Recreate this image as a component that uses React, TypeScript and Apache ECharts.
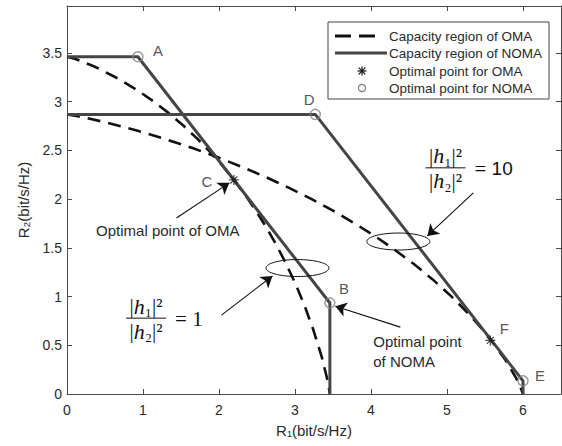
import React, { useEffect, useRef } from 'react';
import * as echarts from 'echarts';

// OMA capacity region boundary, |h1|^2/|h2|^2 = 1  [R1, R2]
const omaRegionRatio1 = [
  [0, 3.459], [0.1, 3.438], [0.179, 3.416], [0.383, 3.351], [0.666, 3.238], [0.912, 3.123],
  [1.134, 3.004], [1.339, 2.881], [1.53, 2.754], [1.71, 2.622], [1.88, 2.486], [2.042, 2.344],
  [2.196, 2.196], [2.344, 2.042], [2.486, 1.88], [2.622, 1.71], [2.754, 1.53], [2.881, 1.339],
  [3.004, 1.134], [3.123, 0.912], [3.238, 0.666], [3.351, 0.383], [3.416, 0.179], [3.438, 0.1],
  [3.459, 0],
];
// OMA capacity region boundary, |h1|^2/|h2|^2 = 10
const omaRegionRatio10 = [
  [0, 2.868], [0.126, 2.851], [0.232, 2.835], [0.515, 2.786], [0.93, 2.7], [1.308, 2.611],
  [1.661, 2.52], [1.996, 2.425], [2.316, 2.325], [2.625, 2.222], [2.923, 2.114], [3.213, 2.002],
  [3.494, 1.883], [3.768, 1.758], [4.037, 1.627], [4.299, 1.487], [4.556, 1.338], [4.807, 1.178],
  [5.054, 1.004], [5.296, 0.814], [5.535, 0.6], [5.769, 0.349], [5.908, 0.166], [5.954, 0.093],
  [6.0, 0],
];
// NOMA capacity region boundaries
const nomaRegionRatio1 = [[0, 3.459], [0.933, 3.459], [3.459, 0.933], [3.459, 0]];
const nomaRegionRatio10 = [[0, 2.868], [3.267, 2.868], [6.0, 0.135], [6.0, 0]];

// Optimal points
const nomaPointNames = ['A', 'B', 'D', 'E'];
const nomaOptimalPoints = [[0.933, 3.459], [3.459, 0.933], [3.267, 2.868], [6.0, 0.135]];
const omaPointNames = ['C', 'F'];
const omaOptimalPoints = [[2.196, 2.196], [5.57, 0.55]];

// Axis ranges / ticks
const xRange = [0, 6.5];
const yRange = [0, 3.98];
const xInterval = 1;
const yInterval = 0.5;

// Legend entries
const legendLabels = [
  'Capacity region of OMA',
  'Capacity region of NOMA',
  'Optimal point for OMA',
  'Optimal point for NOMA',
];

// Annotations (data coordinates)
const arrowLines = [
  [[1.44, 1.806], [2.137, 2.166]],
  [[2.032, 0.809], [2.703, 1.21]],
  [[5.346, 2.063], [4.741, 1.621]],
  [[4.386, 0.686], [3.531, 0.901]],
];
const ellipseCenters = [[3.032, 1.292], [4.36, 1.564]];
const fractionAnchors = [[1.04, 0.778], [4.98, 2.32]];
const fractionRhs = ['1', '10'];
const omaNoteText = 'Optimal point of OMA';
const omaNoteAnchor = [1.326, 1.673];
const nomaNoteText = 'Optimal point\nof NOMA';
const nomaNoteAnchor = [4.03, 0.437];

// label offsets (px) for point letters
const labelOffsets: Record<string, number[]> = {
  A: [20, -6], B: [14, -15], C: [-27, 2], D: [-6, -15], E: [17, -5], F: [14, -12],
};

const SANS = '"Liberation Sans", Arial, Helvetica, sans-serif';
const SERIF = '"Liberation Serif", "DejaVu Serif", serif';
const AXIS_COLOR = '#4a4a4a';
const TEXT_COLOR = '#2a2a2a';
const NOMA_COLOR = '#454545';
const OMA_COLOR = '#111111';
const CIRCLE_COLOR = '#858585';

const STAR_PATH =
  'path://M-0.6,-5L0.6,-5L0.6,5L-0.6,5Z M-5,-0.6L5,-0.6L5,0.6L-5,0.6Z ' +
  'M-3.96,-3.11L3.11,3.96L3.96,3.11L-3.11,-3.96Z M3.11,-3.96L3.96,-3.11L-3.11,3.96L-3.96,3.11Z';

export default function App() {
  const ref = useRef<HTMLDivElement>(null);

  useEffect(() => {
    const chart = echarts.init(ref.current!, null, { renderer: 'svg' });

    const axisCommon = {
      type: 'value' as const,
      axisLine: { show: true, onZero: false, lineStyle: { color: AXIS_COLOR, width: 1 } },
      axisTick: { show: true, inside: true, length: 5, lineStyle: { color: AXIS_COLOR } },
      splitLine: { show: false },
    };

    const letterLabel = (name: string) => ({
      show: true,
      position: 'inside',
      formatter: name,
      offset: labelOffsets[name],
      color: TEXT_COLOR,
      fontFamily: SANS,
      fontSize: 15,
    });

    chart.setOption({
      animation: false,
      backgroundColor: '#ffffff',
      grid: { left: 67, top: 6, width: 494, bottom: 52, containLabel: false },
      xAxis: [
        {
          ...axisCommon,
          min: xRange[0], max: xRange[1], interval: xInterval, position: 'bottom',
          axisLabel: { color: TEXT_COLOR, fontFamily: SANS, fontSize: 14, margin: 9, showMaxLabel: false },
          name: 'R₁(bit/s/Hz)',
          nameLocation: 'middle',
          nameGap: 29,
          nameTextStyle: { color: TEXT_COLOR, fontFamily: SANS, fontSize: 15 },
        },
        {
          ...axisCommon,
          min: xRange[0], max: xRange[1], interval: xInterval, position: 'top',
          axisLabel: { show: false },
        },
      ],
      yAxis: [
        {
          ...axisCommon,
          min: yRange[0], max: yRange[1], interval: yInterval, position: 'left',
          axisLabel: { color: TEXT_COLOR, fontFamily: SANS, fontSize: 14, margin: 5, showMaxLabel: false },
          name: 'R₂(bit/s/Hz)',
          nameLocation: 'middle',
          nameGap: 36,
          nameRotate: 90,
          nameTextStyle: { color: TEXT_COLOR, fontFamily: SANS, fontSize: 15 },
        },
        {
          ...axisCommon,
          min: yRange[0], max: yRange[1], interval: yInterval, position: 'right',
          axisLabel: { show: false },
        },
      ],
      series: [
        {
          name: 'OMA ratio 1', type: 'line', data: omaRegionRatio1, showSymbol: false, silent: true,
          lineStyle: { color: OMA_COLOR, width: 2.6, type: [13, 8] }, z: 2,
        },
        {
          name: 'OMA ratio 10', type: 'line', data: omaRegionRatio10, showSymbol: false, silent: true,
          lineStyle: { color: OMA_COLOR, width: 2.6, type: [13, 8] }, z: 2,
        },
        {
          name: 'NOMA ratio 1', type: 'line', data: nomaRegionRatio1, showSymbol: false, silent: true,
          lineStyle: { color: NOMA_COLOR, width: 3 }, z: 3,
        },
        {
          name: 'NOMA ratio 10', type: 'line', data: nomaRegionRatio10, showSymbol: false, silent: true,
          lineStyle: { color: NOMA_COLOR, width: 3 }, z: 3,
        },
        {
          name: 'NOMA optimal', type: 'scatter', symbol: 'circle', symbolSize: 10, silent: true,
          itemStyle: { color: 'rgba(255,255,255,0)', borderColor: CIRCLE_COLOR, borderWidth: 1.5 },
          data: nomaOptimalPoints.map((p, i) => ({ value: p, name: nomaPointNames[i], label: letterLabel(nomaPointNames[i]) })),
          z: 5,
        },
        {
          name: 'OMA optimal', type: 'scatter', symbol: STAR_PATH, symbolSize: 10, silent: true,
          itemStyle: { color: '#111' },
          data: omaOptimalPoints.map((p, i) => ({ value: p, name: omaPointNames[i], label: letterLabel(omaPointNames[i]) })),
          z: 5,
        },
        {
          name: 'arrows', type: 'line', data: [], silent: true,
          markLine: {
            silent: true,
            symbol: ['none', 'arrow'],
            symbolSize: 11,
            label: { show: false },
            lineStyle: { color: '#111', width: 1.1, type: 'solid' },
            itemStyle: { color: '#111' },
            data: arrowLines.map(([a, b]) => [{ coord: a }, { coord: b }]),
          },
        },
      ],
    });

    const px = (p: number[]) => chart.convertToPixel({ xAxisIndex: 0, yAxisIndex: 0 }, p) as number[];

    const graphics: any[] = [];

    ellipseCenters.forEach((c) => {
      const [cx, cy] = px(c);
      graphics.push({
        type: 'ellipse', silent: true, z: 10,
        shape: { cx, cy, rx: 31.5, ry: 8.5 },
        style: { fill: 'none', stroke: '#111', lineWidth: 1 },
      });
    });

    const fracRich = {
      u: { font: `21px ${SERIF}`, fill: '#111' },
      i: { font: `italic 22px ${SERIF}`, fill: '#111' },
      s: { font: `19px ${SANS}`, fill: '#111' },
    };
    fractionAnchors.forEach((a, k) => {
      const [x, y] = px(a);
      graphics.push({
        type: 'text', silent: true, z: 10, x, y: y - 1,
        style: { text: '{u||}{i|h}{u|₁|²}', rich: fracRich, align: 'center', verticalAlign: 'bottom' },
      });
      graphics.push({
        type: 'line', silent: true, z: 10,
        shape: { x1: x - 20, y1: y, x2: x + 20, y2: y },
        style: { stroke: '#111', lineWidth: 1 },
      });
      graphics.push({
        type: 'text', silent: true, z: 10, x, y: y + 2,
        style: { text: '{u||}{i|h}{u|₂|²}', rich: fracRich, align: 'center', verticalAlign: 'top' },
      });
      const rhs = fractionRhs[k];
      graphics.push({
        type: 'text', silent: true, z: 10, x: x + 29, y: y + 1,
        style: {
          text: rhs === '1' ? '{u|= 1}' : '{u|= }{s|' + rhs + '}',
          rich: fracRich, align: 'left', verticalAlign: 'middle',
        },
      });
    });

    {
      const [x, y] = px(omaNoteAnchor);
      graphics.push({
        type: 'text', silent: true, z: 10, x, y,
        style: { text: omaNoteText, fontFamily: SANS, fontSize: 15, fill: TEXT_COLOR, align: 'center', verticalAlign: 'middle' },
      });
    }
    {
      const [x, y] = px(nomaNoteAnchor);
      graphics.push({
        type: 'text', silent: true, z: 10, x, y,
        style: { text: nomaNoteText, fontFamily: SANS, fontSize: 15, lineHeight: 20, fill: TEXT_COLOR, align: 'left', verticalAlign: 'middle' },
      });
    }

    // Legend box
    const lx = 328, ly = 22, lw = 221, lh = 77;
    const rowY = [36, 53, 71, 88];
    const legendChildren: any[] = [
      { type: 'rect', shape: { x: lx, y: ly, width: lw, height: lh }, style: { fill: '#fff', stroke: '#444', lineWidth: 1 } },
      { type: 'line', shape: { x1: 335, y1: rowY[0], x2: 376, y2: rowY[0] }, style: { stroke: OMA_COLOR, lineWidth: 3, lineDash: [16, 8] } },
      { type: 'line', shape: { x1: 335, y1: rowY[1], x2: 387, y2: rowY[1] }, style: { stroke: NOMA_COLOR, lineWidth: 3 } },
      { type: 'circle', shape: { cx: 362, cy: rowY[3], r: 3.6 }, style: { fill: 'none', stroke: CIRCLE_COLOR, lineWidth: 1.3 } },
    ];
    // asterisk in legend
    [[0, -4.5, 0, 4.5], [-4.5, 0, 4.5, 0], [-3.3, -3.3, 3.3, 3.3], [3.3, -3.3, -3.3, 3.3]].forEach(([a, b, c, d]) => {
      legendChildren.push({
        type: 'line', shape: { x1: 362 + a, y1: rowY[2] + b, x2: 362 + c, y2: rowY[2] + d },
        style: { stroke: '#111', lineWidth: 1.2 },
      });
    });
    legendLabels.forEach((t, i) => {
      legendChildren.push({
        type: 'text', x: 389, y: rowY[i],
        style: { text: t, fontFamily: SANS, fontSize: 13.5, fill: TEXT_COLOR, align: 'left', verticalAlign: 'middle' },
      });
    });
    graphics.push({ type: 'group', silent: true, z: 20, children: legendChildren });

    chart.setOption({ graphic: graphics });

    return () => chart.dispose();
  }, []);

  return (
    <div
      ref={ref}
      style={{ position: 'fixed', left: 0, top: 0, width: 562, height: 446, background: '#fff' }}
    />
  );
}
